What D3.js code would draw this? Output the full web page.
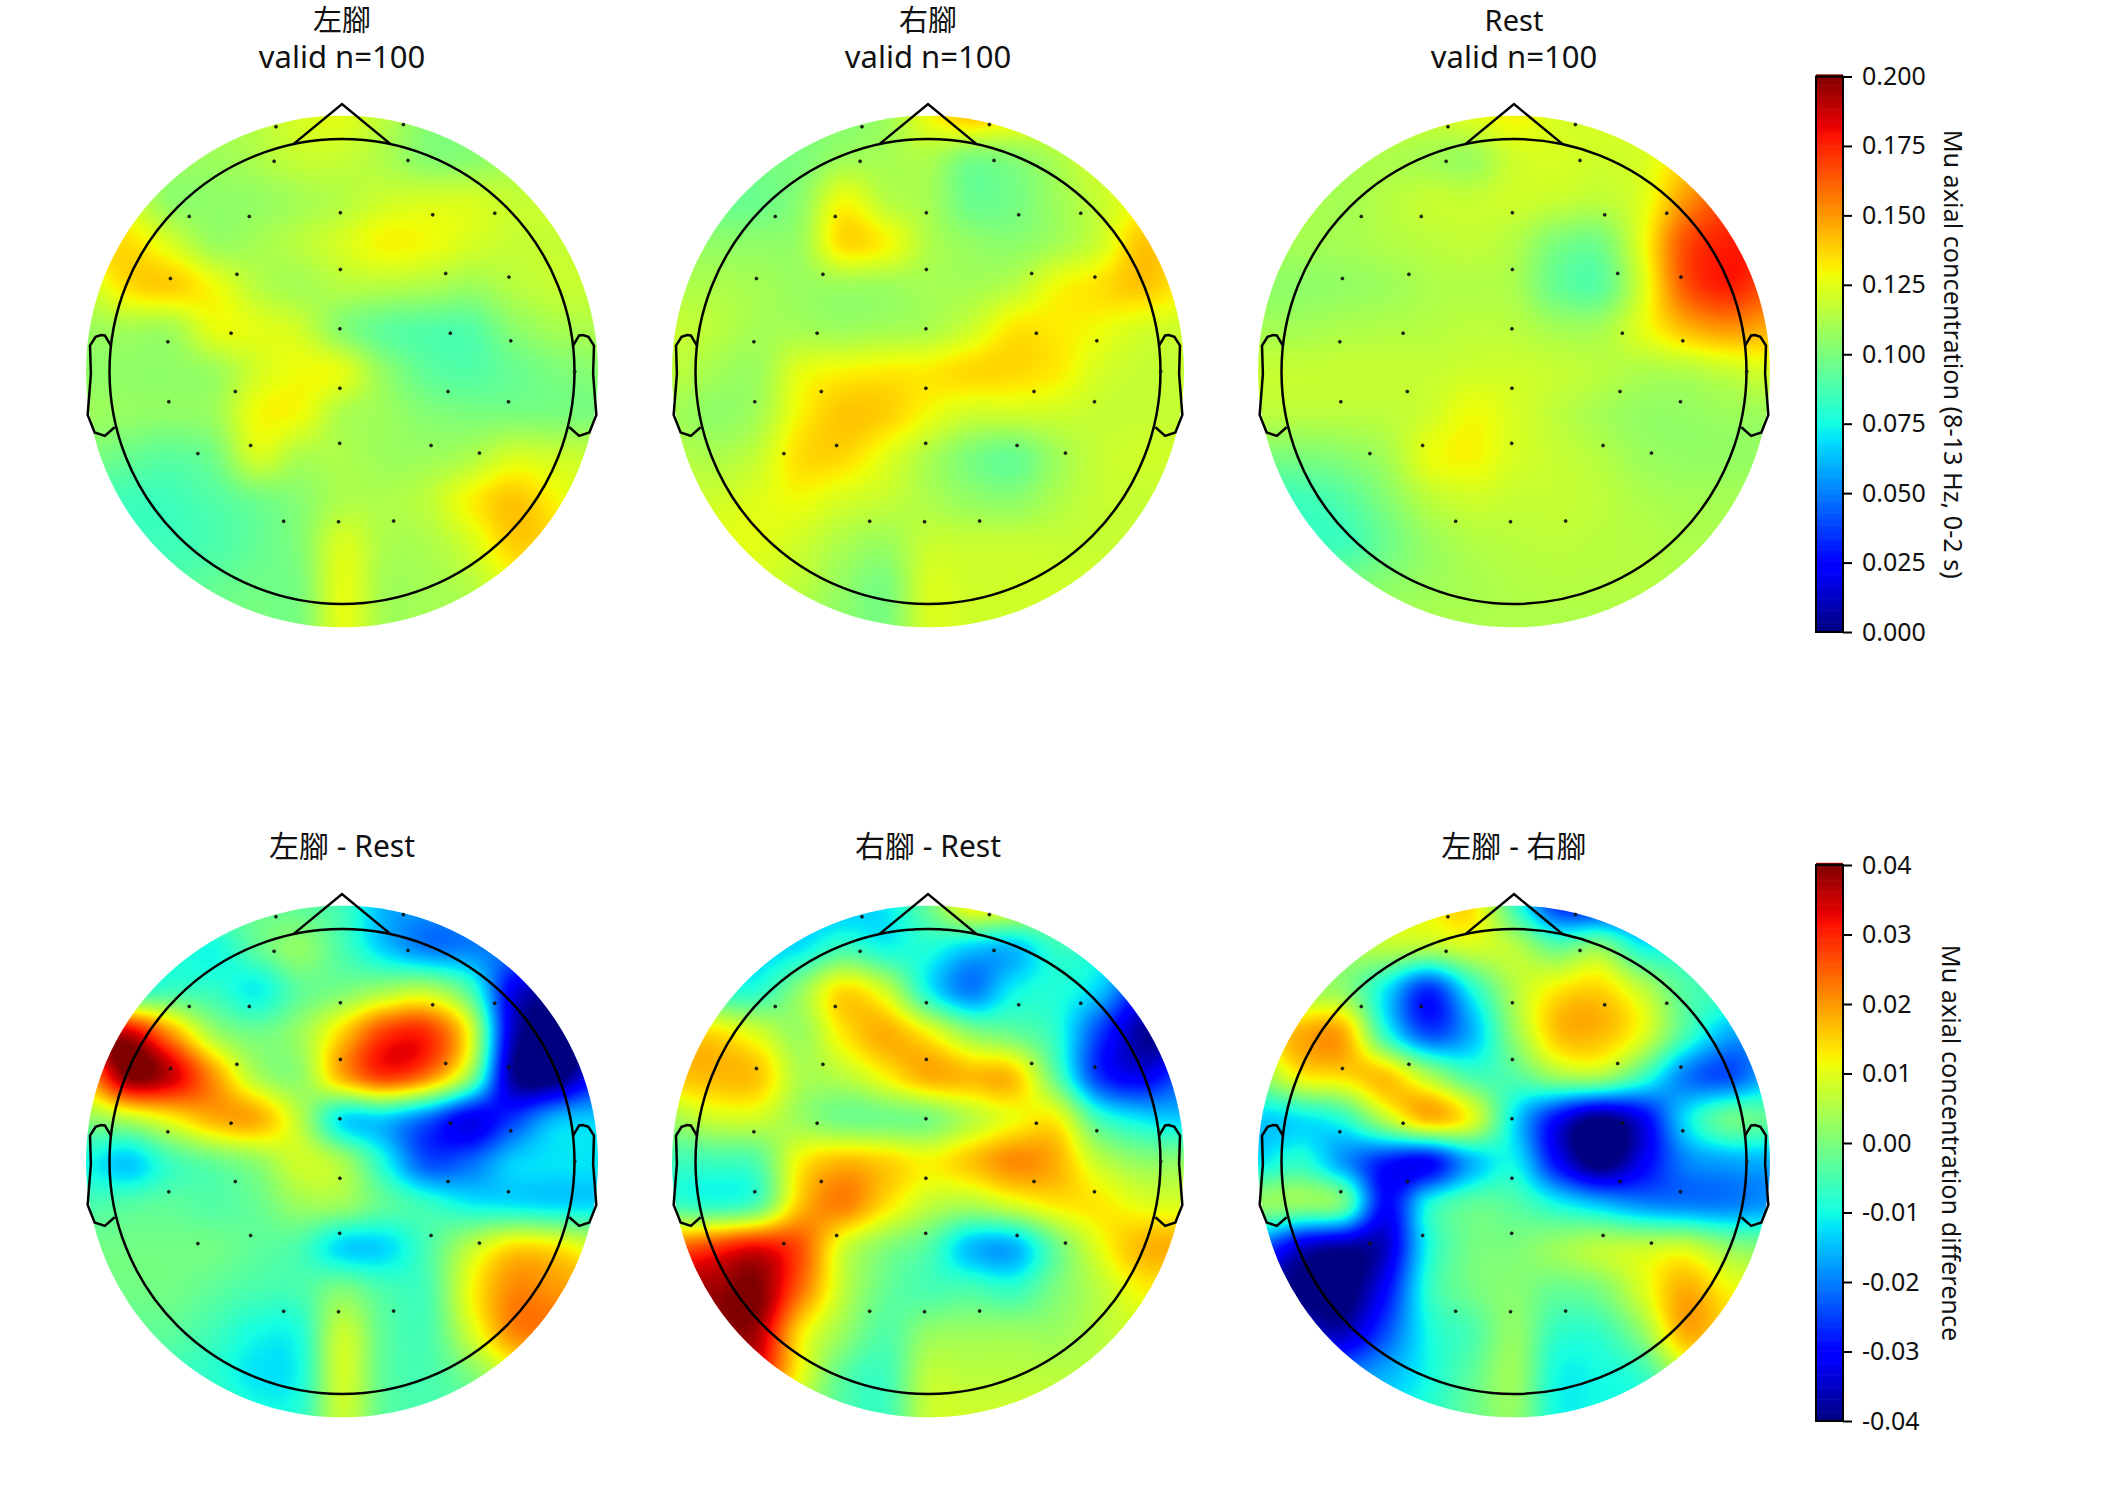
<!DOCTYPE html>
<html>
<head>
<meta charset="utf-8">
<script src="https://cdn.jsdelivr.net/npm/d3@7/dist/d3.min.js"></script>
<style>
html,body{margin:0;padding:0;background:#fff;}
svg{display:block;}
text{font-family:"Noto Sans","Noto Sans CJK TC",sans-serif;fill:#111;}
</style>
</head>
<body>
<svg id="fig" width="2124" height="1512"></svg>
<script>
// Field values on a regular 13 x 13 grid across the scalp, top row first.
// Units: 10^-3 of the colourbar quantity.
const gridLeft = [
[110,110,110,110,115,122,125,115,103,103,103,103,103],
[108,108,108,108,112,118,118,112,103,103,108,110,110],
[118,118,105,105,106,110,114,120,122,122,118,118,118],
[135,135,122,108,110,115,122,130,128,122,118,118,118],
[120,135,138,128,115,110,114,114,112,108,114,118,118],
[108,110,110,126,125,120,103,93,90,90,103,110,112],
[105,105,105,108,121,128,125,105,93,90,95,100,103],
[108,106,105,108,128,128,112,108,102,100,100,100,100],
[100,95,92,98,121,112,112,108,108,112,122,120,118],
[88,85,85,90,97,103,112,112,116,130,140,130,120],
[85,85,85,88,94,102,122,112,112,122,138,135,125],
[90,90,90,94,97,100,125,110,110,114,125,125,120],
[100,100,100,100,100,100,125,110,110,110,110,110,110]];
const gridRight = [
[103,103,103,103,103,108,128,140,132,125,125,125,125],
[100,100,100,100,108,110,112,100,103,112,122,125,125],
[96,96,96,104,128,115,110,96,98,108,118,128,128],
[105,105,105,108,135,130,113,106,104,110,120,140,135],
[112,112,110,107,108,108,110,110,115,128,134,140,132],
[118,115,110,110,108,110,112,120,133,132,128,122,120],
[116,110,108,125,130,132,132,136,136,132,122,118,118],
[110,105,110,130,140,138,128,120,120,120,118,118,118],
[115,112,118,135,136,125,112,100,95,108,118,120,120],
[120,120,124,128,122,118,112,106,104,112,118,118,118],
[125,125,125,120,112,108,118,118,118,118,118,118,118],
[120,120,120,116,106,100,122,120,120,120,120,120,120],
[108,108,108,108,104,100,122,120,120,120,120,120,120]];
const gridRest = [
[120,120,120,120,120,124,130,122,122,122,122,122,122],
[112,112,112,112,110,108,120,122,120,122,135,140,140],
[112,112,110,114,118,118,120,118,116,124,150,165,165],
[110,110,110,113,115,117,113,100,98,126,165,176,176],
[105,105,106,108,112,113,111,95,92,122,163,176,165],
[110,110,112,113,114,116,115,110,110,125,142,150,145],
[118,118,118,118,118,120,120,118,115,112,113,118,122],
[115,115,115,116,120,128,122,116,110,106,106,108,108],
[100,100,103,110,126,130,122,118,114,108,106,106,106],
[85,85,90,102,115,120,118,118,116,112,110,110,110],
[85,85,85,96,107,113,115,116,115,114,112,112,112],
[100,100,100,104,108,111,113,114,114,114,112,112,112],
[112,112,112,112,112,112,112,112,112,112,112,112,112]];
const gridLeftRest = [
[-2,-2,-2,-2,-2,-3,-6,-16,-18,-18,-18,-18,-18],
[-8,-8,-8,-10,-3,2,-5,-14,-20,-20,-20,-20,-20],
[-8,-8,-6,-7,-11,-3,0,4,6,-5,-32,-38,-38],
[35,35,20,4,-1,3,15,28,29,10,-35,-42,-42],
[20,40,35,20,5,2,18,28,22,2,-38,-42,-30],
[2,6,12,18,18,6,-12,-14,-22,-32,-26,-16,-14],
[-10,-14,-6,-2,2,8,4,-10,-24,-22,-14,-12,-12],
[-5,-4,-3,-4,-2,3,3,-3,-7,-11,-12,-13,-13],
[-1,-1,-1,-1,-3,-5,-13,-13,-5,6,14,13,8],
[-1,-1,-1,-3,-5,-5,0,-5,-5,11,21,20,18],
[-3,-3,-3,-6,-10,-9,7,-3,-5,8,21,22,20],
[-6,-6,-6,-8,-12,-10,8,-3,-5,0,8,10,8],
[-5,-5,-5,-5,-9,-8,7,-3,-5,-5,-5,-5,-5]];
const gridRightRest = [
[-15,-15,-15,-15,-15,-12,-2,12,10,5,5,5,5],
[-14,-14,-14,-12,-6,-10,-9,-14,-15,-7,-8,-10,-10],
[-8,-8,-8,2,14,8,-10,-20,-11,-9,-14,-28,-30],
[15,14,9,3,13,18,12,2,-2,-8,-25,-38,-40],
[16,17,16,5,6,12,18,17,16,-3,-26,-32,-24],
[4,8,8,3,-1,-1,0,6,11,12,-6,-12,-14],
[-6,-6,-4,12,17,15,12,16,21,18,7,2,2],
[-6,-8,-4,16,22,14,7,5,9,13,13,10,9],
[24,28,32,26,9,1,-4,-15,-16,-2,10,17,18],
[38,38,40,24,7,-2,-5,-5,-7,0,6,12,12],
[38,38,37,14,3,-4,2,3,3,3,6,8,8],
[30,30,30,11,-3,-6,6,6,6,6,6,6,6],
[5,5,5,3,-4,-6,7,8,8,8,8,8,8]];
const gridLeftRight = [
[10,10,10,10,12,14,-6,-26,-28,-26,-24,-24,-24],
[4,4,4,6,5,8,6,-2,2,-10,-10,-10,-10],
[3,3,2,-12,-27,-10,5,13,15,7,-4,-6,-6],
[12,18,18,-8,-24,-16,2,16,17,10,-5,-16,-18],
[2,12,14,16,5,-5,-4,3,4,-6,-20,-24,-16],
[-14,-12,-8,6,17,10,-12,-30,-40,-32,-13,-2,-3],
[-12,-8,-18,-28,-30,-16,-11,-30,-42,-32,-20,-17,-16],
[2,2,-2,-30,-10,-3,-4,-10,-15,-19,-20,-20,-18],
[-22,-34,-38,-35,-10,-1,0,3,6,7,8,2,0],
[-40,-40,-42,-30,-8,-1,1,-2,0,9,18,12,10],
[-34,-34,-36,-24,-10,-5,2,-7,-7,2,18,14,12],
[-20,-20,-20,-16,-10,-3,3,-10,-10,-7,5,6,6],
[-14,-14,-14,-12,-8,-2,2,-10,-10,-10,-10,-10,-10]];

// Electrode positions in head radii, nose up.
const sensorX = [-.284,.264,-.292,.284,-.657,-.399,-.007,.390,.657,-.738,-.452,-.007,.446,.718,-.749,-.477,-.009,.466,.726,-.745,-.459,-.009,.456,.716,-.620,-.393,-.010,.383,.591,-.251,-.015,.222,1.001];
const sensorY = [1.053,1.062,.904,.908,.667,.667,.683,.674,.681,.400,.418,.439,.422,.406,.128,.165,.184,.165,.132,-.130,-.086,-.072,-.086,-.130,-.353,-.318,-.309,-.318,-.351,-.644,-.646,-.643,0];

// Head outline templates, in head radii.
const noseX = [-.209,0,.209], noseY = [.978,1.15,.978];
const earX = [.497,.510,.518,.5299,.5419,.54,.547,.532,.510,.489].map(v=>v*2);
const earY = [.0555,.0775,.0783,.0746,.0555,-.0055,-.0932,-.1313,-.1384,-.1199].map(v=>v*2);

const titlesTop = [["左腳","valid n=100"],["右腳","valid n=100"],["Rest","valid n=100"]];
const titlesBottom = ["左腳 - Rest","右腳 - Rest","左腳 - 右腳"];
const ticksTop = [0,25,50,75,100,125,150,175,200];
const ticksBottom = [-40,-30,-20,-10,0,10,20,30,40];
const labelTop = "Mu axial concentration (8-13 Hz, 0-2 s)";
const labelBottom = "Mu axial concentration difference";

// Layout of the figure.
const HEAD_R = 232.5, MAP_R = 256;
const columnsX = [342,928,1514];
const rowsY = [371.5,1161.5];
const barX = 1816, barW = 27, barTicks = 9;
const bars = [{y0:76.5,y1:632},{y0:865,y1:1421}];

// Matplotlib's jet colormap as three piecewise-linear channels.
const jetR = d3.scaleLinear([0,.35,.66,.89,1],[0,0,1,1,.5]).clamp(true);
const jetG = d3.scaleLinear([0,.125,.375,.64,.91,1],[0,0,1,1,0,0]).clamp(true);
const jetB = d3.scaleLinear([0,.11,.34,.65,1],[.5,1,1,0,0]).clamp(true);
const jet = t => [jetR(t)*255,jetG(t)*255,jetB(t)*255];

const svg = d3.select("#fig");

// Catmull-Rom weights for one interpolation axis.
function weights(f){
  return [(-f*f*f+2*f*f-f)/2,(3*f*f*f-5*f*f+2)/2,(-3*f*f*f+4*f*f+f)/2,(f*f*f-f*f)/2];
}
function sampler(grid){
  const n = grid.length, clampI = i => Math.max(0,Math.min(n-1,i));
  return (u,v)=>{
    const iu = Math.floor(u), iv = Math.floor(v);
    const wu = weights(u-iu), wv = weights(v-iv);
    let s = 0;
    for(let a=0;a<4;a++) for(let b=0;b<4;b++)
      s += wv[a]*wu[b]*grid[clampI(iv+a-1)][clampI(iu+b-1)];
    return s;
  };
}

function drawMap(cx,cy,grid,domain,id){
  const size = 2*MAP_R;
  const px = d3.scaleLinear([-MAP_R/HEAD_R,MAP_R/HEAD_R],[cx-MAP_R,cx+MAP_R]);
  const py = d3.scaleLinear([-MAP_R/HEAD_R,MAP_R/HEAD_R],[cy+MAP_R,cy-MAP_R]);
  const gx = d3.scaleLinear([cx-MAP_R,cx+MAP_R],[0,grid.length-1]);
  const gy = d3.scaleLinear([cy-MAP_R,cy+MAP_R],[0,grid.length-1]);
  const norm = d3.scaleLinear(domain,[0,1]).clamp(true);
  const field = sampler(grid);

  const cv = document.createElement("canvas");
  cv.width = size; cv.height = size;
  const ctx = cv.getContext("2d");
  const img = ctx.createImageData(size,size);
  for(let j=0;j<size;j++) for(let i=0;i<size;i++){
    const [r,g,b] = jet(norm(field(gx(cx-MAP_R+i+.5),gy(cy-MAP_R+j+.5))));
    const k = 4*(j*size+i);
    img.data[k]=r; img.data[k+1]=g; img.data[k+2]=b; img.data[k+3]=255;
  }
  ctx.putImageData(img,0,0);

  svg.append("clipPath").attr("id",id).append("circle").attr("cx",cx).attr("cy",cy).attr("r",MAP_R);
  svg.append("image").attr("href",cv.toDataURL()).attr("x",cx-MAP_R).attr("y",cy-MAP_R)
    .attr("width",size).attr("height",size).attr("clip-path",`url(#${id})`);

  const outline = d3.line().x(d=>px(d[0])).y(d=>py(d[1]));
  const g = svg.append("g").attr("fill","none").attr("stroke","#000").attr("stroke-width",2.5).attr("stroke-linejoin","miter");
  g.append("ellipse").attr("cx",px(0)).attr("cy",py(0)).attr("rx",px(1)-px(0)).attr("ry",py(0)-py(1));
  g.append("path").attr("d",outline(d3.zip(noseX,noseY)));
  g.append("path").attr("d",outline(d3.zip(earX,earY)));
  g.append("path").attr("d",outline(d3.zip(earX.map(v=>-v),earY)));

  svg.append("g").selectAll("circle").data(d3.zip(sensorX,sensorY)).join("circle")
    .attr("cx",d=>px(d[0])).attr("cy",d=>py(d[1])).attr("r",1.5)
    .attr("fill","#222").attr("stroke","#000").attr("stroke-width",.6);
}

function drawBar(box,domain,ticks,format,label,labelX){
  const y = d3.scaleLinear(domain,[box.y1,box.y0]);
  const norm = d3.scaleLinear(domain,[0,1]);
  const steps = d3.range(256);
  const stepV = d3.scaleLinear([0,255],domain);
  const h = (box.y1-box.y0)/256;
  svg.append("g").selectAll("rect").data(steps).join("rect")
    .attr("x",barX).attr("width",barW)
    .attr("y",d=>y(stepV(d))-h).attr("height",h+.6)
    .attr("fill",d=>{const c=jet(norm(stepV(d)));return `rgb(${c[0]},${c[1]},${c[2]})`;});
  svg.append("rect").attr("x",barX).attr("y",box.y0).attr("width",barW).attr("height",box.y1-box.y0)
    .attr("fill","none").attr("stroke","#000").attr("stroke-width",2);
  const axis = d3.axisRight(y).tickValues(ticks).tickSize(barTicks).tickPadding(10).tickFormat(format);
  const ag = svg.append("g").attr("transform",`translate(${barX+barW},0)`).call(axis);
  ag.select(".domain").remove();
  ag.selectAll("line").attr("stroke","#000").attr("stroke-width",2);
  ag.selectAll("text").attr("font-size",25).attr("font-family",'"Noto Sans","Noto Sans CJK TC",sans-serif').attr("fill","#111");
  svg.append("text").attr("transform",`translate(${labelX},${(box.y0+box.y1)/2}) rotate(90)`)
    .attr("text-anchor","middle").attr("font-size",25.2).text(label);
}

const gridsTop = [gridLeft,gridRight,gridRest];
const gridsBottom = [gridLeftRest,gridRightRest,gridLeftRight];
const domainTop = [0,200], domainBottom = [-40,40];

columnsX.forEach((cx,i)=>{
  drawMap(cx,rowsY[0],gridsTop[i],domainTop,"clipTop"+i);
  drawMap(cx,rowsY[1],gridsBottom[i],domainBottom,"clipBottom"+i);
  svg.append("text").attr("text-anchor","middle").attr("font-size",29)
    .attr("x",cx).attr("y",31).text(titlesTop[i][0]);
  svg.append("text").attr("text-anchor","middle").attr("font-size",31)
    .attr("x",cx).attr("y",68).text(titlesTop[i][1]);
  svg.append("text").attr("text-anchor","middle").attr("font-size",30)
    .attr("x",cx).attr("y",857).text(titlesBottom[i]);
});

drawBar(bars[0],domainTop,ticksTop,v=>(v/1000).toFixed(3),labelTop,1944);
drawBar(bars[1],domainBottom,ticksBottom,v=>(v/1000).toFixed(2),labelBottom,1942);
</script>
</body>
</html>
